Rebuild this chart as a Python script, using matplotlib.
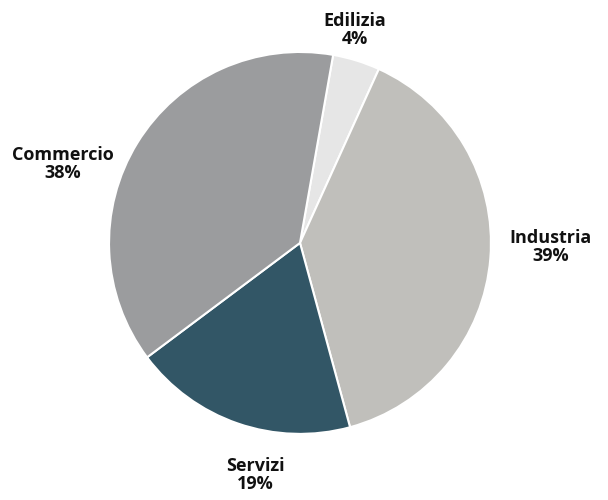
import matplotlib.pyplot as plt

labels = ['Edilizia', 'Industria', 'Servizi', 'Commercio']
shares = [4, 39, 19, 38]
colors = ['#e6e6e6', '#c0bfbb', '#325666', '#9b9c9e']

# label centres, in units of the pie radius
label_pos = [(0.288, 1.115), (1.314, -0.021), (-0.236, -1.215), (-1.241, 0.414)]

fig = plt.figure(figsize=(6.08, 5), dpi=100)
ax = fig.add_axes([0, 0, 1, 1])

wedges, _ = ax.pie(shares, colors=colors, startangle=80, counterclock=False,
                   wedgeprops=dict(edgecolor='white', linewidth=1.5))

for lab, val, (x, y) in zip(labels, shares, label_pos):
    ax.text(x, y, f"{lab}\n{val}%",
            ha='center', va='center', fontsize=13, fontweight='bold',
            family='Open Sans', color='#111111', linespacing=0.95)

ax.set_xlim(-1.571, 1.613)
ax.set_ylim(-1.346, 1.272)
ax.axis('off')

fig.savefig('out.png', dpi=100)
